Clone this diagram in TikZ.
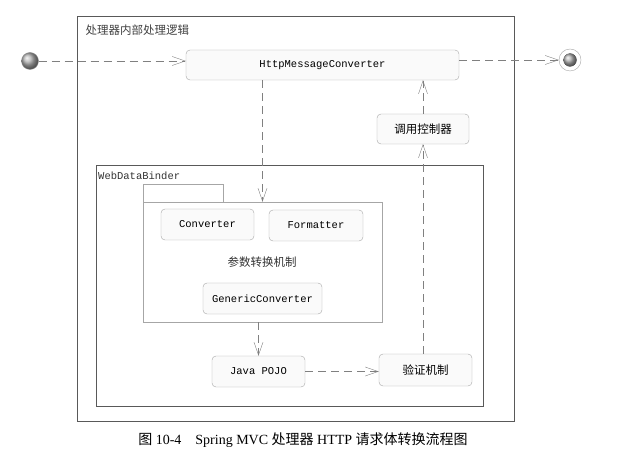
\documentclass[tikz,border=0pt]{standalone}
\usepackage{fontspec}
\setmainfont{Liberation Serif}
\setmonofont{Liberation Mono}
\newfontfamily\cjk{Noto Sans CJK SC}
\usetikzlibrary{arrows.meta,shapes.geometric}
\tikzset{
	box/.style={draw=black!35,rounded corners=4pt,fill=black!2,inner sep=0pt,font=\ttfamily\fontsize{10.5}{12}\selectfont},
	cnbox/.style={box,font=\cjk\fontsize{11.5}{13}\selectfont},
	frame/.style={draw=black!65,line width=0.6pt},
	flow/.style={draw=black!50,dash pattern=on 8pt off 5pt,-{Straight Barb[open,length=13pt,width=9pt]}}
}
\begin{document}
\begin{tikzpicture}[x=1pt,y=-1pt]
	\useasboundingbox (0,0) rectangle (629,462);
	%\draw[lightgray] (0,0) grid[step=50] (629,462);
	% frames
	\draw[frame] (77,16) rectangle (514,421);
	\node[anchor=west,font=\cjk\fontsize{11.5}{13}\selectfont,text=black!75] (title) at (82,30) {处理器内部处理逻辑};
	\draw[frame] (96,165) rectangle (483,406);
	\node[anchor=west,font=\ttfamily\fontsize{10.5}{12}\selectfont,text=black!80,inner sep=1pt] (binder) at (97,176) {WebDataBinder};
	% package
	\draw[draw=black!35] (143,202) -- (143,184) -- (223,184) -- (223,202);
	\node[draw=black!35,minimum width=239pt,minimum height=120pt,inner sep=0pt] (pkg) at (262.5,262) {};
	\node[font=\cjk\fontsize{11.5}{13}\selectfont,text=black!80] (mech) at (262,262) {参数转换机制};
	% nodes
	\node[box,minimum width=273pt,minimum height=30pt] (hmc) at (322.5,65) {HttpMessageConverter};
	\node[cnbox,minimum width=92pt,minimum height=30pt] (ctrl) at (423,129) {调用控制器};
	\node[box,minimum width=93pt,minimum height=31pt] (conv) at (207.5,224.5) {Converter};
	\node[box,minimum width=94pt,minimum height=31pt] (fmt) at (316,225.5) {Formatter};
	\node[box,minimum width=119pt,minimum height=31pt] (gen) at (262.5,298.5) {GenericConverter};
	\node[box,minimum width=93pt,minimum height=31pt] (pojo) at (258.5,371.5) {Java POJO};
	\node[cnbox,minimum width=93pt,minimum height=32pt] (check) at (425.5,370) {验证机制};
	% start / end
	\node[circle,minimum size=17pt,inner sep=0pt,ball color=black!30,draw=black!45] (start) at (30,61) {};
	\node[circle,minimum size=22pt,inner sep=0pt,draw=black!35,fill=white] (end) at (570,60) {};
	\fill[ball color=black!30] (end) circle (6.5pt);
	% flows
	\draw[flow] (start) -- (start -| hmc.west);
	\draw[flow] (hmc.south -| pkg.north) -- (pkg.north);
	\draw[flow] (pkg.south -| pojo.north) -- (pojo.north);
	\draw[flow] (pojo.east) -- (pojo.east -| check.west);
	\draw[flow] (check.north -| ctrl.south) -- (ctrl.south);
	\draw[flow] (ctrl.north) -- (ctrl.north |- hmc.south);
	\draw[flow] (hmc.east |- end) -- (end.west);
	% caption
	\node[font=\fontsize{14}{16}\selectfont] (caption) at (303,440) {{\cjk 图} 10-4\quad Spring MVC {\cjk 处理器} HTTP {\cjk 请求体转换流程图}};
\end{tikzpicture}
\end{document}
